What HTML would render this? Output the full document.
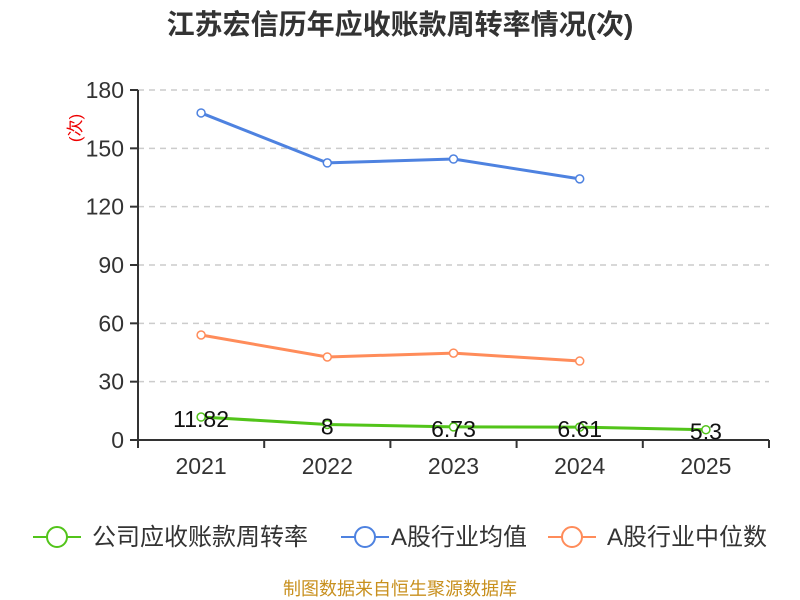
<!DOCTYPE html>
<html><head><meta charset="utf-8"><style>
body{margin:0;background:#fff;}
svg{display:block;font-family:"Liberation Sans","Noto Sans CJK SC",sans-serif;}
</style></head><body>
<svg id="chart" width="800" height="600">
<text x="400" y="34" text-anchor="middle" font-size="28" font-weight="bold" fill="#333">江苏宏信历年应收账款周转率情况(次)</text>
<text transform="translate(81,128) rotate(-90)" text-anchor="middle" font-size="17" fill="#e00">(次)</text>
<g id="grid"></g><g id="axes"></g><g id="series"></g>
<g>
<g><line x1="33" y1="537" x2="81" y2="537" stroke="#52c41a" stroke-width="2"/><circle cx="57" cy="537" r="10" fill="#fff" stroke="#52c41a" stroke-width="2"/><text x="92" y="545" font-size="24" fill="#333">公司应收账款周转率</text></g>
<g><line x1="341" y1="537" x2="389" y2="537" stroke="#4e82e0" stroke-width="2"/><circle cx="365" cy="537" r="10" fill="#fff" stroke="#4e82e0" stroke-width="2"/><text x="391" y="545" font-size="24" fill="#333">A股行业均值</text></g>
<g><line x1="548" y1="537" x2="596" y2="537" stroke="#ff8c5a" stroke-width="2"/><circle cx="572" cy="537" r="10" fill="#fff" stroke="#ff8c5a" stroke-width="2"/><text x="607" y="545" font-size="24" fill="#333">A股行业中位数</text></g>
</g>
<text x="400" y="595" text-anchor="middle" font-size="18" fill="#c8901e">制图数据来自恒生聚源数据库</text>
</svg>
<script>
const categories=["2021","2022","2023","2024","2025"];
const yTicks=[0,30,60,90,120,150,180];
const companyValues=[11.82,8,6.73,6.61,5.3];
const companyLabels=["11.82","8","6.73","6.61","5.3"];
const avgValues=[168.2,142.5,144.5,134.3];
const medianValues=[54,42.7,44.7,40.6];
const NS="http://www.w3.org/2000/svg";
const x0=138,x1=769,y0=440,y1=90,yMax=180;
const bw=(x1-x0)/categories.length;
const xs=i=>x0+bw*(i+0.5);
const ys=v=>y0-(v/yMax)*(y0-y1);
function mk(t,a,p){const e=document.createElementNS(NS,t);for(const k in a)e.setAttribute(k,a[k]);p.appendChild(e);return e;}
const grid=document.getElementById('grid'),axes=document.getElementById('axes'),ser=document.getElementById('series');
yTicks.forEach(t=>{
 if(t>0){const g=mk('line',{x1:x0,x2:x1,y1:ys(t),y2:ys(t),stroke:'#ccc','stroke-dasharray':'6,5','stroke-width':1.5},grid);
 
 }
 const tk=mk('line',{x1:x0-8,x2:x0,y1:ys(t),y2:ys(t),stroke:'#333','stroke-width':2},axes);
 
 
 const l=mk('text',{x:x0-14,y:ys(t)+8,'text-anchor':'end','font-size':23,fill:'#333'},axes);l.textContent=t;
 
 
});
const ya=mk('line',{x1:x0,x2:x0,y1:y1,y2:y0,stroke:'#333','stroke-width':2},axes);


const xa=mk('line',{x1:x0,x2:x1,y1:y0,y2:y0,stroke:'#333','stroke-width':2},axes);


for(let i=0;i<=categories.length;i++){const t=mk('line',{x1:x0+bw*i,x2:x0+bw*i,y1:y0,y2:y0+8,stroke:'#333','stroke-width':2},axes);
 
 }
categories.forEach((c,i)=>{const l=mk('text',{x:xs(i),y:y0+34,'text-anchor':'middle','font-size':23,fill:'#333'},axes);l.textContent=c;
 
 });
function series(vals,color,name){
 const g=mk('g',{},ser);
 
 
 const pl=mk('polyline',{points:vals.map((v,i)=>xs(i)+','+ys(v)).join(' '),fill:'none',stroke:color,'stroke-width':3},g);
 
 
 vals.forEach((v,i)=>{const p=mk('circle',{cx:xs(i),cy:ys(v),r:4,fill:'#fff',stroke:color,'stroke-width':1.5},g);
  
  });
 return g;
}
series(avgValues,'#4e82e0','industry-average-series');
series(medianValues,'#ff8c5a','industry-median-series');
const cg=series(companyValues,'#52c41a','company-series');
companyValues.forEach((v,i)=>{const l=mk('text',{x:xs(i),y:ys(v)+10,'text-anchor':'middle','font-size':23,fill:'#111'},cg);l.textContent=companyLabels[i];
 
 });
</script>
</body></html>
